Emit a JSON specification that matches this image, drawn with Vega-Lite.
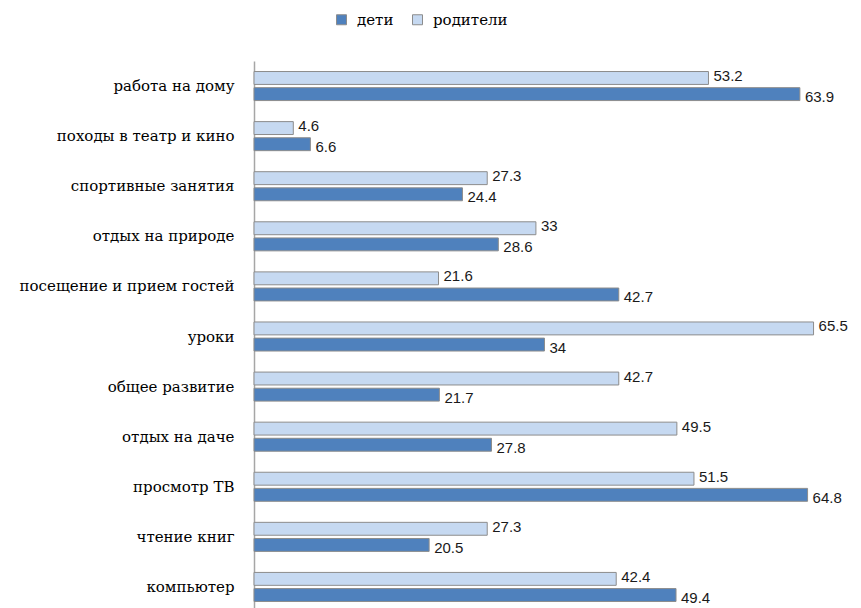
{
  "$schema": "https://vega.github.io/schema/vega-lite/v6.json",
  "width": 598,
  "height": 551,
  "autosize": "none",
  "padding": {"left": 254, "top": 61, "right": 9, "bottom": 0},
  "background": "white",
  "config": {"view": {"stroke": null}},
  "data": {"values": [
    {"activity": "работа на дому", "group": "родители", "value": 53.2},
    {"activity": "работа на дому", "group": "дети", "value": 63.9},
    {"activity": "походы в театр и кино", "group": "родители", "value": 4.6},
    {"activity": "походы в театр и кино", "group": "дети", "value": 6.6},
    {"activity": "спортивные занятия", "group": "родители", "value": 27.3},
    {"activity": "спортивные занятия", "group": "дети", "value": 24.4},
    {"activity": "отдых на природе", "group": "родители", "value": 33},
    {"activity": "отдых на природе", "group": "дети", "value": 28.6},
    {"activity": "посещение и прием гостей", "group": "родители", "value": 21.6},
    {"activity": "посещение и прием гостей", "group": "дети", "value": 42.7},
    {"activity": "уроки", "group": "родители", "value": 65.5},
    {"activity": "уроки", "group": "дети", "value": 34},
    {"activity": "общее развитие", "group": "родители", "value": 42.7},
    {"activity": "общее развитие", "group": "дети", "value": 21.7},
    {"activity": "отдых на даче", "group": "родители", "value": 49.5},
    {"activity": "отдых на даче", "group": "дети", "value": 27.8},
    {"activity": "просмотр ТВ", "group": "родители", "value": 51.5},
    {"activity": "просмотр ТВ", "group": "дети", "value": 64.8},
    {"activity": "чтение книг", "group": "родители", "value": 27.3},
    {"activity": "чтение книг", "group": "дети", "value": 20.5},
    {"activity": "компьютер", "group": "родители", "value": 42.4},
    {"activity": "компьютер", "group": "дети", "value": 49.4}
  ]},
  "encoding": {
    "y": {
      "field": "activity", "type": "nominal", "sort": null,
      "scale": {"paddingInner": 0.42, "paddingOuter": 0.21},
      "axis": {
        "title": null, "ticks": false, "domainColor": "#a6a6a6", "domainWidth": 1.5,
        "labelFont": "'DejaVu Serif', serif", "labelFontSize": 15, "labelColor": "#000000",
        "labelPadding": 20, "labelLimit": 300
      }
    },
    "yOffset": {"field": "group", "type": "nominal", "scale": {"domain": ["родители", "дети"], "paddingInner": 0.2}},
    "x": {"field": "value", "type": "quantitative", "scale": {"domain": [0, 70]}, "axis": null}
  },
  "layer": [
    {
      "mark": {"type": "bar", "stroke": "#8c8c8c", "strokeWidth": 1},
      "encoding": {
        "color": {
          "field": "group", "type": "nominal",
          "scale": {"domain": ["дети", "родители"], "range": ["#4f81bd", "#c6d9f1"]},
          "legend": {
            "title": null, "orient": "none", "direction": "horizontal",
            "legendX": 80, "legendY": -49,
            "symbolType": "square", "symbolSize": 100, "symbolStrokeColor": "#8c8c8c", "symbolStrokeWidth": 1,
            "labelFont": "'DejaVu Serif', serif", "labelFontSize": 15, "labelColor": "#000000",
            "columnPadding": 16, "labelOffset": 8
          }
        }
      }
    },
    {
      "transform": [{"filter": "datum.group === 'родители'"}],
      "mark": {"type": "text", "align": "left", "baseline": "middle", "dx": 5, "dy": -2, "font": "Liberation Sans", "fontSize": 15, "color": "#1a1a1a"},
      "encoding": {"text": {"field": "value", "type": "nominal"}}
    },
    {
      "transform": [{"filter": "datum.group === 'дети'"}],
      "mark": {"type": "text", "align": "left", "baseline": "middle", "dx": 5, "dy": 3, "font": "Liberation Sans", "fontSize": 15, "color": "#1a1a1a"},
      "encoding": {"text": {"field": "value", "type": "nominal"}}
    }
  ]
}
